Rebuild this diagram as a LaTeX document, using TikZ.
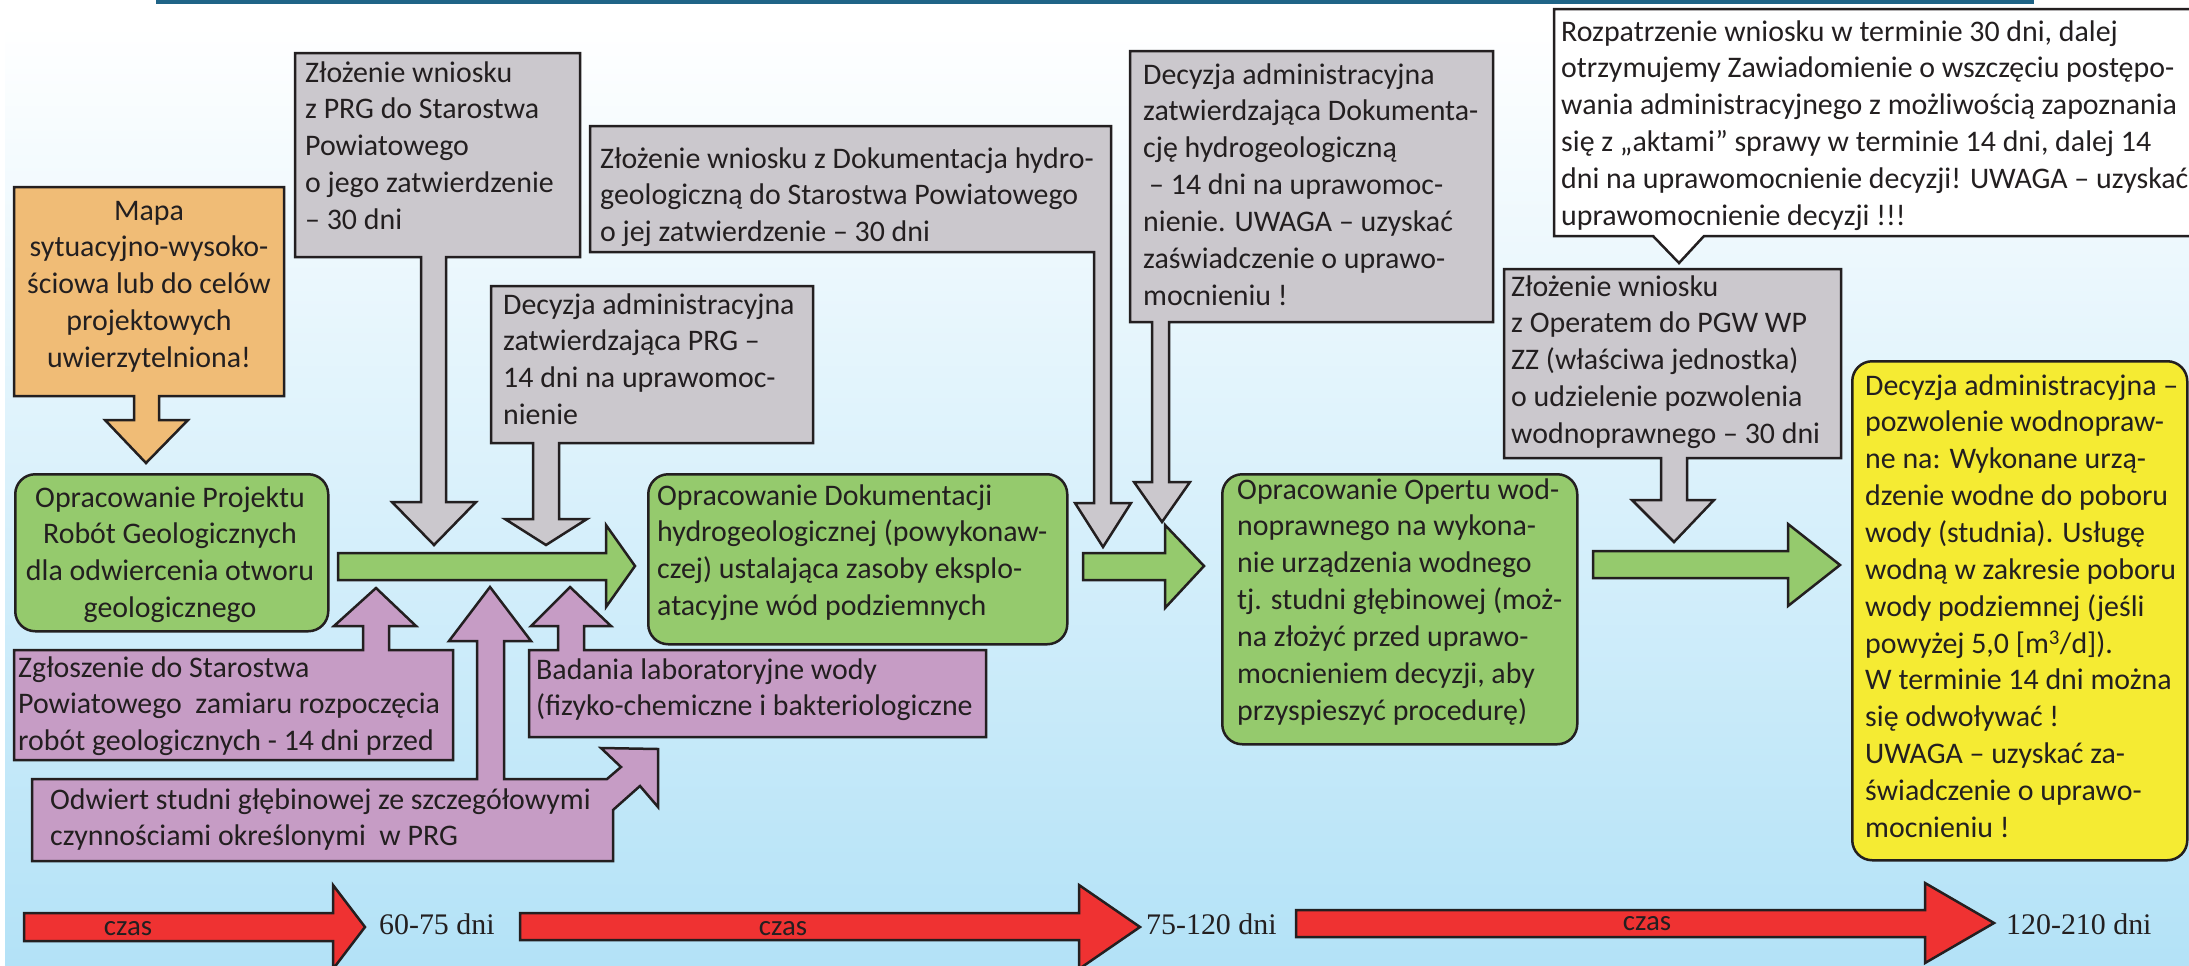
\documentclass[tikz,border=0pt]{standalone}
\usepackage{fontspec}
\setmainfont{Carlito}
\newfontfamily\serifdays{Liberation Serif}
\definecolor{ink}{HTML}{231F20}
\definecolor{grayf}{HTML}{CBC8CD}
\definecolor{orangef}{HTML}{F0BC76}
\definecolor{greenf}{HTML}{95CA6D}
\definecolor{purplef}{HTML}{C69CC5}
\definecolor{yellowf}{HTML}{F5EB33}
\definecolor{redf}{HTML}{EF3232}
\definecolor{topline}{HTML}{1F6487}
\definecolor{bgblue}{HTML}{B3E2F7}
\tikzset{
  shp/.style={draw=ink, line width=2.5bp, line join=miter},
  grayshp/.style={shp, fill=grayf},
  orangeshp/.style={shp, fill=orangef},
  greenshp/.style={shp, fill=greenf},
  purpleshp/.style={shp, fill=purplef},
  redshp/.style={shp, fill=redf},
  whiteshp/.style={shp, fill=white},
  gbox/.style={shp, fill=greenf, rounded corners=20bp, anchor=north west, inner sep=0pt},
  ybox/.style={shp, fill=yellowf, rounded corners=20bp, anchor=north west, inner sep=0pt},
  txt/.style={inner sep=0pt, anchor=north west, align=left, text=ink, font=\fontsize{30}{37}\selectfont},
  ctxt/.style={txt, anchor=north, align=center},
  days/.style={inner sep=0pt, anchor=base west, text=ink, font=\serifdays\fontsize{30}{36}\selectfont},
  czas/.style={inner sep=0pt, anchor=base, text=ink, font=\fontsize{29}{35}\selectfont},
}
\begin{document}
\begin{tikzpicture}[x=1bp,y=-1bp]
\useasboundingbox (0,0) rectangle (2189,965);
\fill[white] (0,0) rectangle (2189,965);
\shade[top color=white, bottom color=bgblue] (5,25) rectangle (2189,965);
\fill[topline] (156,0) rectangle (2034,4);

% ---- red time arrows
\draw[redshp] (24,913) -- (333,913) -- (333,885) -- (365,927) -- (333,969) -- (333,941) -- (24,941) -- cycle;
\draw[redshp] (520,913) -- (1079,913) -- (1079,885) -- (1140,927) -- (1079,969) -- (1079,940) -- (520,940) -- cycle;
\draw[redshp] (1296,910) -- (1925,910) -- (1925,883) -- (1994,923) -- (1925,963) -- (1925,937) -- (1296,937) -- cycle;
\node[czas] (cz1) at (128,935) {czas};
\node[czas] (cz2) at (783,935) {czas};
\node[czas] (cz3) at (1647,930) {czas};
\node[days] (d1) at (379,934) {60-75 dni};
\node[days] (d2) at (1146,934) {75-120 dni};
\node[days] (d3) at (2006,934) {120-210 dni};

% ---- Mapa (orange) with arrow
\draw[orangeshp] (14,187) -- (284,187) -- (284,396) -- (159,396) -- (159,420) -- (188,420) -- (146,463) -- (105,420) -- (134,420) -- (134,396) -- (14,396) -- cycle;
\node[ctxt] (tMapa) at (149,194) {\strut Mapa\\sytuacyjno-wysoko-\\ściowa lub do celów\\projektowych\\uwierzytelniona!};

% ---- gray boxes with down arrows
\draw[grayshp] (295,53) -- (580,53) -- (580,257) -- (446,257) -- (446,502) -- (476,502) -- (434,545) -- (392,502) -- (421,502) -- (421,257) -- (295,257) -- cycle;
\node[txt] (tA) at (305,56) {\strut Złożenie wniosku\\z PRG do Starostwa\\Powiatowego\\o jego zatwierdzenie\\– 30 dni};

\draw[grayshp] (590,126) -- (1111,126) -- (1111,503) -- (1131,503) -- (1103,547) -- (1075,503) -- (1094,503) -- (1094,252) -- (590,252) -- cycle;
\node[txt] (tHyd) at (600,142) {\strut Złożenie wniosku z Dokumentacja hydro-\\geologiczną do Starostwa Powiatowego\\o jej zatwierdzenie – 30 dni};

\draw[grayshp] (491,286) -- (813,286) -- (813,443) -- (559,443) -- (559,519) -- (587,519) -- (546,545) -- (505,519) -- (533,519) -- (533,443) -- (491,443) -- cycle;
\node[txt] (tPRGd) at (503,288) {\strut Decyzja administracyjna\\zatwierdzająca PRG –\\14 dni na uprawomoc-\\nienie};

\draw[grayshp] (1130,51) -- (1493,51) -- (1493,322) -- (1169,322) -- (1169,482) -- (1190,482) -- (1162,522) -- (1134,482) -- (1152,482) -- (1152,322) -- (1130,322) -- cycle;
\node[txt] (tDecDok) at (1143,58) {\strut Decyzja administracyjna\\zatwierdzająca Dokumenta-\\cję hydrogeologiczną\\\hspace*{6bp}– 14 dni na uprawomoc-\\nienie. UWAGA – uzyskać\\zaświadczenie o uprawo-\\mocnieniu !};

\draw[whiteshp] (1554,9) -- (2200,9) -- (2200,236) -- (1704,236) -- (1679,263) -- (1653,236) -- (1554,236) -- cycle;
\node[txt] (tRozp) at (1561,15) {\strut Rozpatrzenie wniosku w terminie 30 dni, dalej\\otrzymujemy Zawiadomienie o wszczęciu postępo-\\wania administracyjnego z możliwością zapoznania\\się z „aktami” sprawy w terminie 14 dni, dalej 14\\dni na uprawomocnienie decyzji! UWAGA – uzyskać\\uprawomocnienie decyzji !!!};

\draw[grayshp] (1504,269) -- (1841,269) -- (1841,458) -- (1687,458) -- (1687,500) -- (1714,500) -- (1674,542) -- (1632,500) -- (1661,500) -- (1661,458) -- (1504,458) -- cycle;
\node[txt] (tOper) at (1511,270) {\strut Złożenie wniosku\\z Operatem do PGW WP\\ZZ (właściwa jednostka)\\o udzielenie pozwolenia\\wodnoprawnego – 30 dni};

% ---- green boxes and arrows
\node[gbox, minimum width=313bp, minimum height=157bp] (g1) at (14,473) {};
\node[ctxt] (tG1) at (170,481) {\strut Opracowanie Projektu\\Robót Geologicznych\\dla odwiercenia otworu\\geologicznego};
\node[gbox, minimum width=419bp, minimum height=170bp] (g2) at (647,473) {};
\node[txt] (tG2) at (657,479) {\strut Opracowanie Dokumentacji\\hydrogeologicznej (powykonaw-\\czej) ustalająca zasoby eksplo-\\atacyjne wód podziemnych};
\node[gbox, minimum width=355bp, minimum height=270bp] (g3) at (1221,473) {};
\node[txt] (tG3) at (1237,473) {\strut Opracowanie Opertu wod-\\noprawnego na wykona-\\nie urządzenia wodnego\\tj. studni głębinowej (moż-\\na złożyć przed uprawo-\\mocnieniem decyzji, aby\\przyspieszyć procedurę)};

\draw[greenshp] (338,553) -- (606,553) -- (606,525) -- (635,566) -- (606,607) -- (606,580) -- (338,580) -- cycle;
\draw[greenshp] (1083,553) -- (1165,553) -- (1165,525) -- (1204,566) -- (1165,608) -- (1165,580) -- (1083,580) -- cycle;
\draw[greenshp] (1593,551) -- (1788,551) -- (1788,524) -- (1840,565) -- (1788,606) -- (1788,578) -- (1593,578) -- cycle;

% ---- yellow final box
\node[ybox, minimum width=335bp, minimum height=499bp] (yel) at (1851,360) {};
\node[txt] (tYel) at (1865,369) {\strut Decyzja administracyjna –\\pozwolenie wodnopraw-\\ne na: Wykonane urzą-\\dzenie wodne do poboru\\wody (studnia). Usługę\\wodną w zakresie poboru\\wody podziemnej (jeśli\\powyżej 5,0 [m\textsuperscript{3}/d]).\\W terminie 14 dni można\\się odwoływać !\\UWAGA – uzyskać za-\\świadczenie o uprawo-\\mocnieniu !};

% ---- purple boxes with up arrows
\draw[purpleshp] (14,650) -- (363,650) -- (363,626) -- (334,626) -- (376,588) -- (416,626) -- (389,626) -- (389,650) -- (453,650) -- (453,760) -- (14,760) -- cycle;
\node[txt] (tZg) at (18,651) {\strut Zgłoszenie do Starostwa\\Powiatowego~ zamiaru rozpoczęcia\\robót geologicznych - 14 dni przed};

\draw[purpleshp] (529,650) -- (558,650) -- (558,626) -- (531,626) -- (570,587) -- (611,626) -- (584,626) -- (584,650) -- (986,650) -- (986,737) -- (529,737) -- cycle;
\node[txt] (tBad) at (536,653) {\strut Badania laboratoryjne wody\\(fizyko-chemiczne i bakteriologiczne};

\draw[purpleshp] (32,779) -- (477,779) -- (477,641) -- (449,641) -- (490,587) -- (531,641) -- (504,641) -- (504,779) -- (607,779) -- (621,767) -- (601,748) -- (658,749) -- (658,807) -- (640,786) -- (613,810) -- (613,861) -- (32,861) -- cycle;
\node[txt] (tOdw) at (50,783) {\strut Odwiert studni głębinowej ze szczegółowymi\\czynnościami określonymi~ w PRG};
\end{tikzpicture}
\end{document}
